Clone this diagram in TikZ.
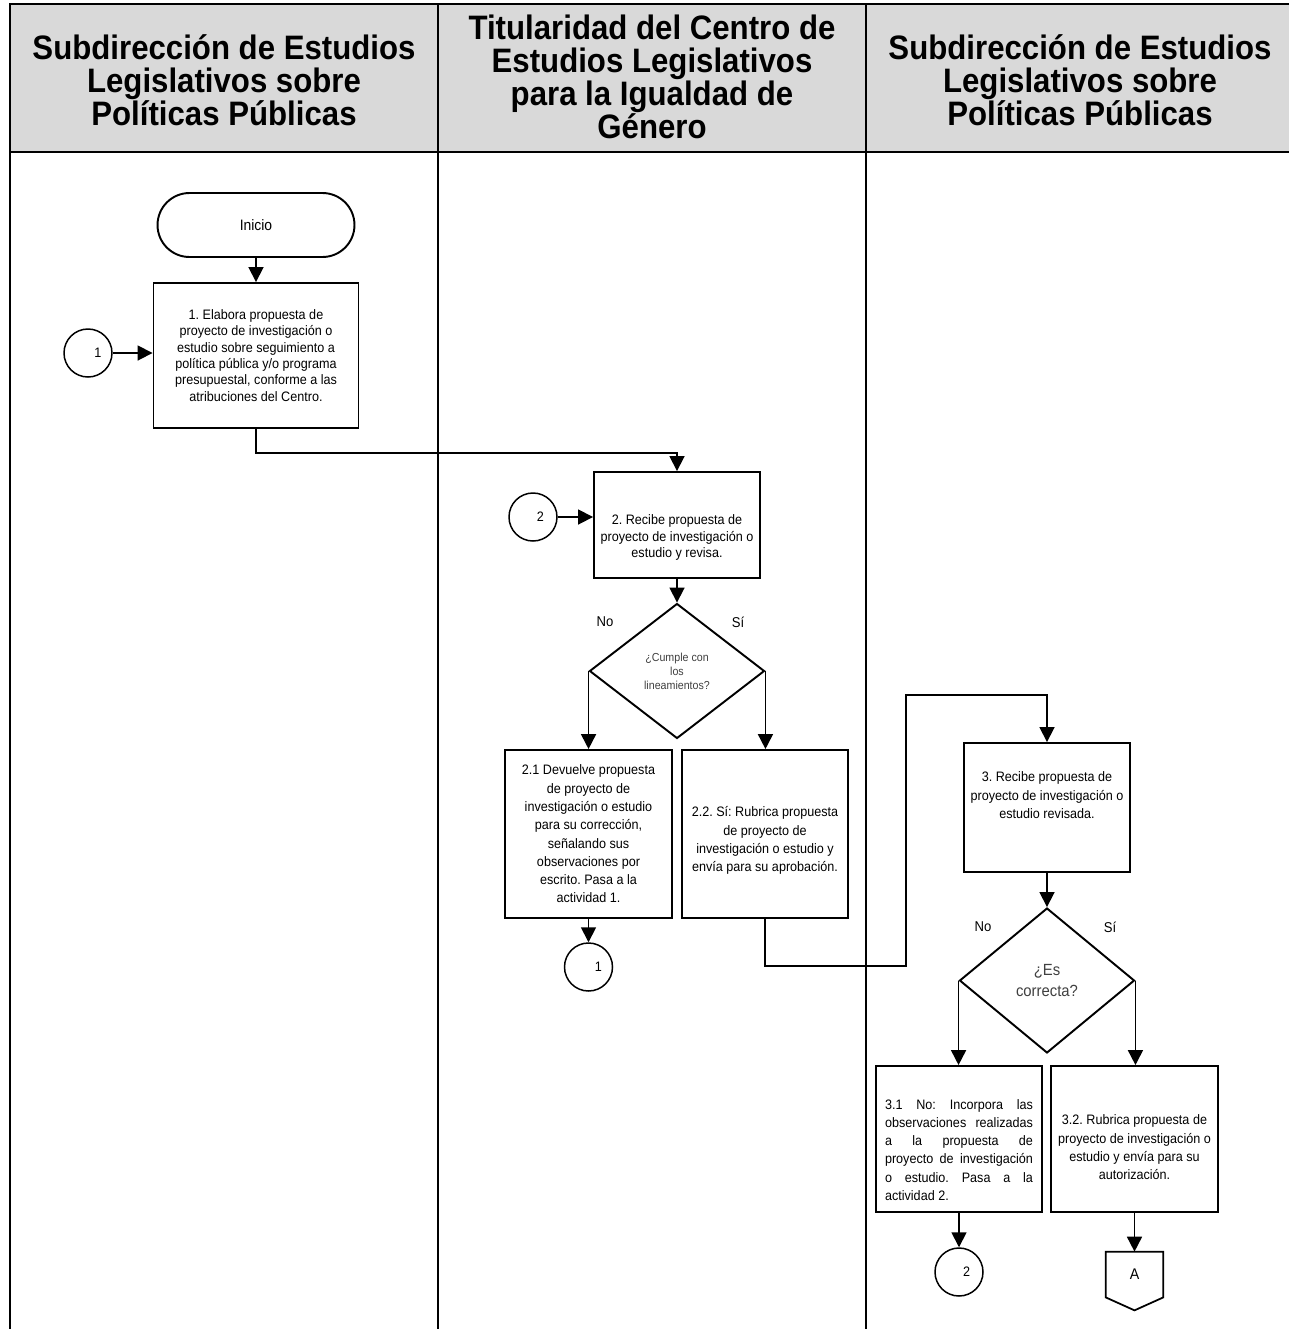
\documentclass[tikz,border=0pt]{standalone}
\usepackage{fontspec}
\setmainfont[FakeStretch=0.92]{Liberation Sans}
\usetikzlibrary{arrows.meta,shapes.geometric}
\newcommand{\fsz}[2]{\fontsize{#1}{#2}\selectfont}
\newcommand{\pushdn}[1]{\rule{0pt}{#1}}
\newcommand{\pushup}[1]{\rule[-#1]{0pt}{0pt}}

\begin{document}
\frenchspacing
\begin{tikzpicture}[%
      x=0.02cm, y=-0.02cm,
      lane/.style={line width=1.1pt},
      head/.style={font=\bfseries\fsz{19.3}{18.8}, align=center},
      act/.style={draw, line width=1.1pt, align=center, inner sep=1pt, font=\fsz{7.8}{9.3}},
      wide/.style={font=\fsz{7.8}{10.4}},
      conn/.style={circle, draw, line width=0.85pt, minimum size=0.96cm, inner sep=0pt, font=\fsz{7.8}{9.3}},
      dec/.style={diamond, draw, line width=1.1pt, inner sep=0pt, align=center, text=black!75},
      lbl/.style={font=\fsz{8.1}{9}},
      flow/.style={line width=1pt, -{Triangle[width=0.3cm,length=0.3cm]}},
      ]
      \useasboundingbox (0,0) rectangle (1289,1329);
      \fill [gray!30] (10,4) rectangle (1289,152);
      \draw [lane] (1289,4) -- (10,4) -- (10,1329);
      \draw [lane] (10,152) -- (1289,152);
      \draw [lane] (438,4) -- (438,1329);
      \draw [lane] (866,4) -- (866,1329);

      \node [head] (h1) at (224,80) {Subdirección de Estudios\\Legislativos sobre\\Políticas Públicas};
      \node [head] (h2) at (652,77) {Titularidad del Centro de\\Estudios Legislativos\\para la Igualdad de\\Género};
      \node [head] (h3) at (1080,80) {Subdirección de Estudios\\Legislativos sobre\\Políticas Públicas};

      \node [act, rounded corners=0.64cm, minimum width=3.94cm, minimum height=1.28cm, font=\fsz{8.6}{10}] (inicio) at (256,225) {Inicio};
      \node [act, minimum width=4.1cm, minimum height=2.9cm] (a1) at (256,355.5)
            {1. Elabora propuesta de\\proyecto de investigación o\\estudio sobre seguimiento a\\política pública y/o programa\\presupuestal, conforme a las\\atribuciones del Centro.};
      \node [conn] (c1) at (88,353) {\hspace{0.4cm}1};

      \node [act, minimum width=3.32cm, minimum height=2.12cm] (a2) at (677,525)
            {\pushdn{0.71cm}2. Recibe propuesta de\\proyecto de investigación o\\estudio y revisa.};
      \node [conn] (c2) at (533,517) {\hspace{0.3cm}2};
      \node [dec, minimum width=3.5cm, minimum height=2.7cm, font=\fsz{6.6}{8}] (d1) at (677,671)
            {¿Cumple con\\los\\lineamientos?};
      \node [lbl] (no1) at (605,622) {No};
      \node [lbl] (si1) at (738,622) {Sí};
      \node [act, wide, minimum width=3.34cm, minimum height=3.36cm] (a21) at (588.5,834)
            {2.1 Devuelve propuesta\\de proyecto de\\investigación o estudio\\para su corrección,\\señalando sus\\observaciones por\\escrito. Pasa a la\\actividad 1.};
      \node [act, wide, minimum width=3.32cm, minimum height=3.36cm] (a22) at (765,834)
            {\pushdn{0.47cm}2.2. Sí: Rubrica propuesta\\de proyecto de\\investigación o estudio y\\envía para su aprobación.};
      \node [conn] (c1b) at (588.5,967) {\hspace{0.4cm}1};

      \node [act, wide, minimum width=3.32cm, minimum height=2.58cm] (a3) at (1047,807.5)
            {3. Recibe propuesta de\\proyecto de investigación o\\estudio revisada.\pushup{0.49cm}};
      \node [dec, minimum width=3.5cm, minimum height=2.9cm, font=\fsz{9.2}{11.5}] (d2) at (1047,980.5)
            {¿Es\\correcta?};
      \node [lbl] (no2) at (983,927) {No};
      \node [lbl] (si2) at (1110,927) {Sí};
      \node [act, wide, minimum width=3.32cm, minimum height=2.92cm, text width=2.96cm, align=justify] (a31) at (959,1139)
            {\hyphenpenalty=10000 \pushdn{0.63cm}3.1 No: Incorpora las\linebreak observaciones realizadas\linebreak a la propuesta de\linebreak proyecto de investigación\linebreak o estudio. Pasa a la\linebreak actividad 2.};
      \node [act, wide, minimum width=3.34cm, minimum height=2.92cm] (a32) at (1134.5,1139)
            {\pushdn{0.53cm}3.2. Rubrica propuesta de\\proyecto de investigación o\\estudio y envía para su\\autorización.};
      \node [conn] (c2b) at (959,1272) {\hspace{0.3cm}2};
      \node [minimum width=1.14cm, minimum height=0.9cm, inner sep=0pt, font=\fsz{8.8}{10}] (pa) at (1134.5,1274.5) {A};
      \draw [line width=1pt] (pa.north west) -- (pa.north east) -- (pa.south east)
            -- ([yshift=-0.26cm]pa.south) -- (pa.south west) -- cycle;

      \draw [flow] (inicio) -- (a1);
      \draw [flow] (c1) -- (c1 -| a1.west);
      \draw [flow] (a1.south) -- ++(0,24) -| (a2.north);
      \draw [flow] (c2) -- (c2 -| a2.west);
      \draw [flow] (a2) -- (d1);
      \draw [flow] (d1.west) -- (d1.west |- a21.north);
      \draw [flow] (d1.east) -- (d1.east |- a22.north);
      \draw [flow] (a21) -- (c1b);
      \draw [flow] (a22.south) |- (906,966) -- (906,695) -| (a3.north);
      \draw [flow] (a3) -- (d2);
      \draw [flow] (d2.west) -- (d2.west |- a31.north);
      \draw [flow] (d2.east) -- (d2.east |- a32.north);
      \draw [flow] (a31) -- (c2b);
      \draw [flow] (a32) -- (pa);
\end{tikzpicture}
\end{document}
